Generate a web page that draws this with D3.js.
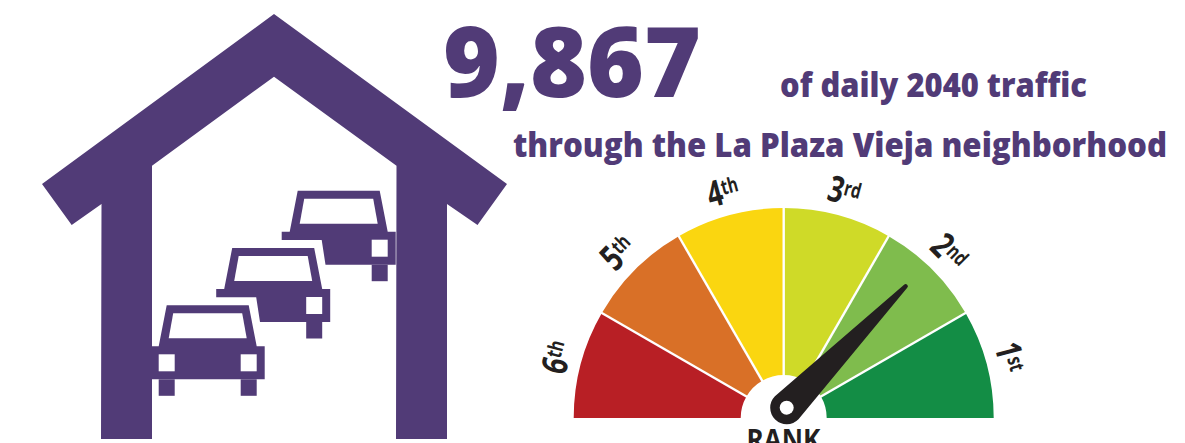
<!DOCTYPE html>
<html><head><meta charset="utf-8">
<style>html,body{margin:0;padding:0;background:#fff;overflow:hidden}svg{display:block}</style>
<script src="https://cdn.jsdelivr.net/npm/d3@7"></script></head>
<body><svg id="c" width="1185" height="443"></svg>
<script>
const ranks = ["6","5","4","3","2","1"];
const suffixes = ["th","th","th","rd","nd","st"];
const rankColors = ["#B81F25","#D97027","#FAD610","#CFDA28","#7FBC4D","#138D45"];
const needleRank = 1.52; // position counted from 1st-place end of the dial
const headline = "9,867";
const line1 = "of daily 2040 traffic";
const line2 = "through the La Plaza Vieja neighborhood";
const axisTitle = "RANK";
const purple = "#513B77", ink = "#231F20";

const housePts = [[274,14],[507,184],[477.5,225],[447,204],[447,439],[396,439],[396.5,165.7],[274,76.7],[152,165.7],[152,439],[101,439],[101.5,204],[71.7,225],[42,184]];
const carBody = [[-41,0],[41,0],[49,41],[57,41],[57,74],[-57,74],[-57,41],[-49,41]];
const rearBody = [[-41,0],[41,0],[49,41],[57,41],[57,74],[-13.2,74],[-17,49.3],[-57,49.3],[-57,41],[-49,41]];
const windshield = [[-34.5,8],[34.5,8],[39,33],[-39,33]];
const cars = [{cx:338.7,top:190.7,rear:true},{cx:273.2,top:248,rear:true},{cx:207.7,top:305.3,rear:false}];

const svg = d3.select("#c");
const line = d3.line().curve(d3.curveLinearClosed);

cars.forEach(c=>{
  const g = svg.append("g").attr("transform",`translate(${c.cx},${c.top})`);
  g.append("path").attr("d",line(c.rear?rearBody:carBody)).attr("fill",purple);
  g.append("path").attr("d",line(windshield)).attr("fill","#fff");
  const sides = c.rear?[1]:[-1,1];
  sides.forEach(s=>{
    g.append("rect").attr("x",s>0?33:-49).attr("y",74).attr("width",16).attr("height",16.5).attr("fill",purple);
    g.append("rect").attr("x",s>0?33:-49).attr("y",49).attr("width",16).attr("height",17).attr("fill","#fff");
  });
});
svg.append("path").attr("d",line(housePts)).attr("fill",purple);

function txt(s,x,y,size,len,weight){
  return svg.append("text").attr("x",x).attr("y",y).attr("font-family","'Open Sans',sans-serif")
    .attr("font-weight",weight||700).attr("font-size",size).attr("fill",purple)
    .attr("textLength",len).attr("lengthAdjust","spacingAndGlyphs").text(s);
}
txt(headline,443,97,98,258,800);
txt(line1,780,97,33,307,800);
txt(line2,513,157,33,654,800);

const cx=783.7, cy=418, R=210, r0=43;
const angle = d3.scaleLinear().domain([0,ranks.length]).range([-Math.PI/2,Math.PI/2]);
const arc = d3.arc().innerRadius(r0).outerRadius(R);
const gauge = svg.append("g").attr("transform",`translate(${cx},${cy})`);
gauge.selectAll("path").data(ranks).join("path")
  .attr("d",(d,i)=>arc({startAngle:angle(i),endAngle:angle(i+1)}))
  .attr("fill",(d,i)=>rankColors[i]);
gauge.selectAll("line").data(d3.range(1,ranks.length)).join("line")
  .attr("x1",i=>(r0-1)*Math.sin(angle(i))).attr("y1",i=>-(r0-1)*Math.cos(angle(i)))
  .attr("x2",i=>(R+1)*Math.sin(angle(i))).attr("y2",i=>-(R+1)*Math.cos(angle(i)))
  .attr("stroke","#fff").attr("stroke-width",2.4);

const lab = gauge.selectAll("g.l").data(ranks).join("g").attr("class","l")
  .attr("transform",(d,i)=>{const a=(i+.5)*30-90;return `rotate(${a}) translate(0,-234) scale(0.74,1)`;});
const t = lab.append("text").attr("text-anchor","middle").attr("y",12)
  .attr("font-family","'Open Sans',sans-serif").attr("font-weight",700)
  .attr("font-size",36).attr("fill",ink);
t.append("tspan").text(d=>d);
t.append("tspan").attr("font-size",21).attr("dy",-9).text((d,i)=>suffixes[i]);

const hx=786.7, hy=407.7, hr=16.5, tipR=2.2;
const tipAngle = angle(ranks.length-needleRank);
const len = 170;
const needle = svg.append("g").attr("transform",`translate(${hx},${hy}) rotate(${tipAngle*180/Math.PI})`);
const needlePath = d3.path();
needlePath.moveTo(-hr,0);
needlePath.lineTo(-tipR,-len);
needlePath.arc(0,-len,tipR,Math.PI,0);
needlePath.lineTo(hr,0);
needlePath.arc(0,0,hr,0,Math.PI);
needlePath.closePath();
needle.append("path").attr("d",needlePath.toString()).attr("fill",ink);
needle.append("circle").attr("r",7).attr("fill","#fff");

svg.append("text").attr("x",783.5).attr("y",450).attr("text-anchor","middle")
  .attr("font-family","'Open Sans',sans-serif").attr("font-weight",700).attr("font-size",28).attr("fill",ink)
  .attr("textLength",74).attr("lengthAdjust","spacingAndGlyphs").text(axisTitle);
</script></body></html>
